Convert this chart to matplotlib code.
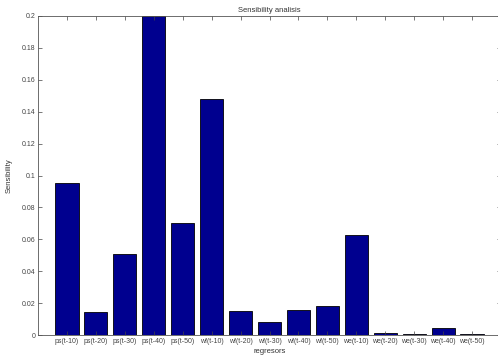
import matplotlib
matplotlib.use("Agg")
import matplotlib.pyplot as plt
import numpy as np

regresors = ['ps(t-10)', 'ps(t-20)', 'ps(t-30)', 'ps(t-40)', 'ps(t-50)',
             'wf(t-10)', 'wf(t-20)', 'wf(t-30)', 'wf(t-40)', 'wf(t-50)',
             'we(t-10)', 'we(t-20)', 'we(t-30)', 'we(t-40)', 'we(t-50)']
sensibility = [0.095, 0.0145, 0.0505, 0.2, 0.070,
               0.148, 0.015, 0.0084, 0.0157, 0.018,
               0.063, 0.0014, 0.0007, 0.0046, 0.0007]
yticks = [0, 0.02, 0.04, 0.06, 0.08, 0.1, 0.12, 0.14, 0.16, 0.18, 0.2]

plt.rcParams['font.family'] = ['Liberation Sans', 'DejaVu Sans']

fig = plt.figure(figsize=(4.98, 3.6), dpi=100)
ax = fig.add_axes([38/498, 25/360, 463/498, 319/360])

x = np.arange(1, len(regresors) + 1)
ax.bar(x, sensibility, width=0.8, color=(0, 0, 0.5625),
       edgecolor='black', linewidth=0.6)

ax.set_xlim(0, 16)
ax.set_ylim(0, 0.2)
ax.set_xticks(x)
ax.set_xticklabels(regresors)
ax.set_yticks(yticks)
ax.set_yticklabels(['0', '0.02', '0.04', '0.06', '0.08', '0.1',
                    '0.12', '0.14', '0.16', '0.18', '0.2'])
ax.tick_params(direction='in', top=True, right=True, length=3,
               width=0.5, labelsize=5, colors='#444444', pad=2)
for s in ax.spines.values():
    s.set_linewidth(0.6)
    s.set_color('#555555')

ax.set_title('Sensibility analisis', fontsize=5.5, color='#333333', pad=3)
ax.set_xlabel('regresors', fontsize=5.5, color='#333333', labelpad=2)
ax.set_ylabel('Sensibility', fontsize=5.5, color='#333333', labelpad=6)

fig.savefig('out.png', dpi=100)
